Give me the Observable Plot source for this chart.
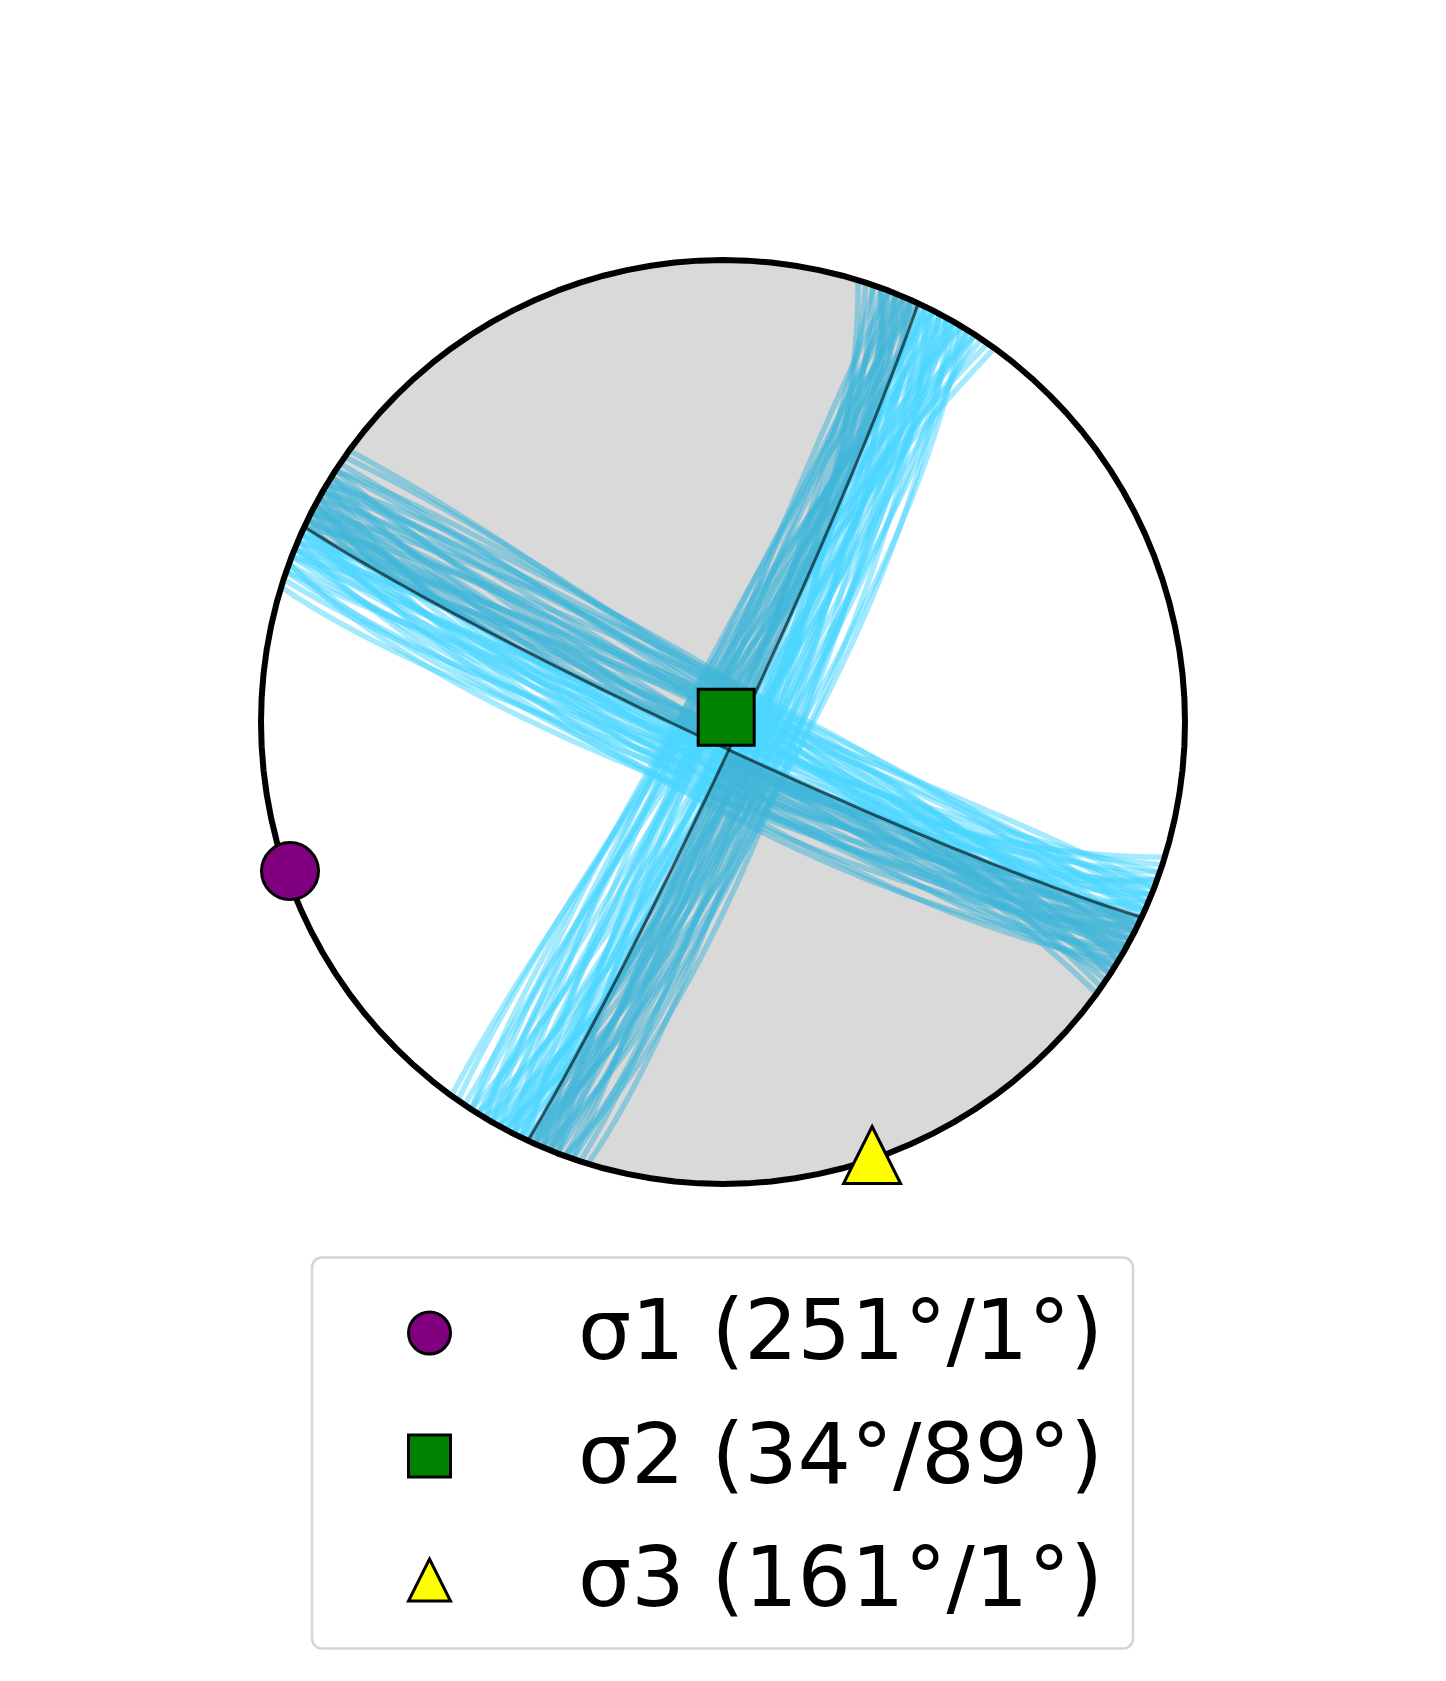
<!DOCTYPE html>
<html><head><meta charset="utf-8">
<script src="https://cdn.jsdelivr.net/npm/d3@7"></script>
<script src="https://cdn.jsdelivr.net/npm/@observablehq/plot@0.6"></script>
<style>
body{margin:0;background:#fff}
#wrap{position:relative;width:1446px;height:1681px;font-family:"DejaVu Sans",sans-serif}
#legend{position:absolute;left:0;top:1240px}
</style>
</head><body><div id="wrap"></div>
<script>
// ---- data ----
const sigmaLabels = ["σ1", "σ2", "σ3"];
const sigmaTrend = [251, 34, 161];
const sigmaPlunge = [1, 89, 1];
const sigmaFill = ["purple", "green", "yellow"];

// best-fitting nodal planes [strike, dip] (right-hand rule)
const nodalPlane1 = [115, 86];
const nodalPlane2 = [25, 87];

// uncertainty nodal planes [strike, dip]
const plane1Variants = [
  [115,86],[112,84],[118,83],[109,87],[121,85],[114,81],[117,88],[110,79],[120,80],[113,89],
  [116,76],[119,86],[108,83],[122,82],[111,88],[115,82],[117,79],[113,85],[119,76],[110,85],
  [123,86],[107,81],[116,89],[112,80],[120,87],[114,84],[118,85],[121,78],[109,82],[122,88],
  [115,78],[111,83],[117,84],[113,77],[119,82],[110,77],[116,85],[118,80],[112,87],[114,89],
  [298,88],[301,86],[303,87],[296,89],[305,85],[300,84],[302,89],[294,87],[299,85],[304,88],
  [297,83],[306,86],[292,88],[300,89],[295,84],[293,86],[297,87],[301,83],[303,84],[291,87]
];
const plane2Variants = [
  [25,87],[22,84],[28,83],[19,87],[31,85],[24,81],[27,88],[20,79],[30,80],[23,89],
  [26,76],[29,86],[18,83],[32,82],[21,88],[25,82],[27,79],[23,85],[29,76],[20,85],
  [33,86],[17,81],[26,89],[22,80],[30,87],[24,84],[28,85],[31,78],[19,82],[32,88],
  [25,78],[21,83],[27,84],[23,77],[29,82],[20,77],[26,85],[28,80],[22,87],[24,89],
  [208,88],[211,86],[213,87],[206,89],[215,85],[210,84],[212,89],[204,87],[209,85],[214,88],
  [207,83],[216,86],[202,88],[210,89],[205,84],[203,86],[207,87],[211,83],[213,84],[201,87]
];

// ---- equal-area lower-hemisphere geometry ----
const rad = Math.PI / 180;
function planeVecs(strike, dip) {
  const s = strike * rad, d = dip * rad;
  const sv = [Math.sin(s), Math.cos(s), 0];
  const dv = [Math.cos(d) * Math.cos(s), -Math.cos(d) * Math.sin(s), Math.sin(d)];
  return [sv, dv];
}
function toXY(v) { // v = [E, N, Down]
  const k = 1 / Math.sqrt(1 + v[2]);
  return [v[0] * k, v[1] * k];
}
function planePoint(pv, lamDeg) {
  const L = lamDeg * rad;
  const v = pv[0].map((a, i) => Math.cos(L) * a + Math.sin(L) * pv[1][i]);
  return toXY(v);
}
function lineXY(trend, plunge) {
  const t = trend * rad, p = plunge * rad;
  return toXY([Math.cos(p) * Math.sin(t), Math.cos(p) * Math.cos(t), Math.sin(p)]);
}
const cross = (a, b) => [a[1]*b[2]-a[2]*b[1], a[2]*b[0]-a[0]*b[2], a[0]*b[1]-a[1]*b[0]];
const dot = (a, b) => a[0]*b[0] + a[1]*b[1] + a[2]*b[2];

function curve(strike, dip, id, from = 0, to = 180) {
  const pv = planeVecs(strike, dip);
  const out = [];
  const n = 90;
  for (let i = 0; i <= n; i++) {
    const [x, y] = planePoint(pv, from + (to - from) * i / n);
    out.push({x, y, id});
  }
  return out;
}

const uncert = [];
plane1Variants.forEach((p, i) => uncert.push(...curve(p[0], p[1], "a" + i)));
plane2Variants.forEach((p, i) => uncert.push(...curve(p[0], p[1], "b" + i)));

const best = [...curve(nodalPlane1[0], nodalPlane1[1], "p1"), ...curve(nodalPlane2[0], nodalPlane2[1], "p2")];

// compressional quadrants bounded by the two nodal planes
const pv1 = planeVecs(...nodalPlane1), pv2 = planeVecs(...nodalPlane2);
let B = cross(cross(pv1[0], pv1[1]), cross(pv2[0], pv2[1]));
if (B[2] < 0) B = B.map(v => -v);
const lam1 = Math.atan2(dot(B, pv1[1]), dot(B, pv1[0])) / rad;
const lam2 = Math.atan2(dot(B, pv2[1]), dot(B, pv2[0])) / rad;
function rimArc(a0, a1, q) {
  const out = [], n = 120;
  for (let i = 0; i <= n; i++) {
    const a = (a0 + (a1 - a0) * i / n) * rad;
    out.push({x: Math.sin(a), y: Math.cos(a), q});
  }
  return out;
}
const tag = (arr, q) => arr.map(d => ({x: d.x, y: d.y, q}));
const quads = [
  ...tag(curve(nodalPlane1[0], nodalPlane1[1], 0, lam1, 180), "N"),
  ...rimArc(nodalPlane1[0] + 180, nodalPlane2[0] + 360, "N"),
  ...tag(curve(nodalPlane2[0], nodalPlane2[1], 0, 0, lam2), "N"),
  ...tag(curve(nodalPlane2[0], nodalPlane2[1], 0, lam2, 180), "S"),
  ...rimArc(nodalPlane2[0] + 180, nodalPlane1[0], "S"),
  ...tag(curve(nodalPlane1[0], nodalPlane1[1], 0, 0, lam1), "S")
];
const rim = rimArc(0, 360, "rim");

const axes = sigmaLabels.map((l, i) => {
  const [x, y] = lineXY(sigmaTrend[i], sigmaPlunge[i]);
  return {label: l, x, y, fill: sigmaFill[i]};
});

// custom marker shapes
const symCircle = d3.symbolCircle;
const symSquare = {draw(c, size) { const s = Math.sqrt(size / Math.PI); c.rect(-s, -s, 2 * s, 2 * s); }};
const symTri = {draw(c, size) { const s = Math.sqrt(size / Math.PI); c.moveTo(0, -s); c.lineTo(s, s); c.lineTo(-s, s); c.closePath(); }};

const H = 1240;
const chart = Plot.plot({
  width: 1446, height: H,
  marginLeft: 260.5, marginRight: 261.5, marginTop: 259.5, marginBottom: H - 1183.5,
  x: {domain: [-1, 1], axis: null},
  y: {domain: [-1, 1], axis: null},
  marks: [
    Plot.line(uncert, {x: "x", y: "y", z: "id", stroke: "#4ad6ff", strokeOpacity: 0.5, strokeWidth: 5.5}),
    Plot.line(quads, {x: "x", y: "y", z: "q", fill: "#d9d9d9", stroke: "none", mixBlendMode: "multiply"}),
    Plot.line(best, {x: "x", y: "y", z: "id", stroke: "black", strokeOpacity: 0.6, strokeWidth: 3}),
    Plot.line(rim, {x: "x", y: "y", stroke: "black", strokeWidth: 6}),
    Plot.dot([axes[0]], {x: "x", y: "y", r: 28.5, symbol: symCircle, fill: "purple", stroke: "black", strokeWidth: 3}),
    Plot.dot([axes[1]], {x: "x", y: "y", r: 28, symbol: symSquare, fill: "green", stroke: "black", strokeWidth: 3}),
    Plot.dot([axes[2]], {x: "x", y: "y", r: 28.5, symbol: symTri, fill: "yellow", stroke: "black", strokeWidth: 3, strokeLinejoin: "miter"})
  ]
});
const wrap = document.getElementById("wrap");
wrap.appendChild(chart);

// ---- legend (below the plot) ----
const leg = d3.create("svg").attr("id", "legend").attr("width", 1446).attr("height", 441);
leg.append("rect").attr("x", 312).attr("y", 17.5).attr("width", 821).attr("height", 391)
  .attr("rx", 10).attr("fill", "white").attr("stroke", "#d5d5d5").attr("stroke-width", 2.5);
const rowMarkerY = [93, 216, 340];
const rowBaseY = [119, 242.5, 366];
const shapes = [
  d3.symbol(symCircle, Math.PI * 21 * 21)(),
  d3.symbol(symSquare, Math.PI * 21 * 21)(),
  d3.symbol(symTri, Math.PI * 21 * 21)()
];
sigmaLabels.forEach((l, i) => {
  leg.append("path").attr("d", shapes[i]).attr("transform", `translate(429.5,${rowMarkerY[i]})`)
    .attr("fill", sigmaFill[i]).attr("stroke", "black").attr("stroke-width", 3);
  leg.append("text").attr("x", 578).attr("y", rowBaseY[i])
    .attr("font-family", "DejaVu Sans").attr("font-size", 84).attr("fill", "black")
    .text(`${l} (${sigmaTrend[i]}°/${sigmaPlunge[i]}°)`);
});
wrap.appendChild(leg.node());
</script>
</body></html>
